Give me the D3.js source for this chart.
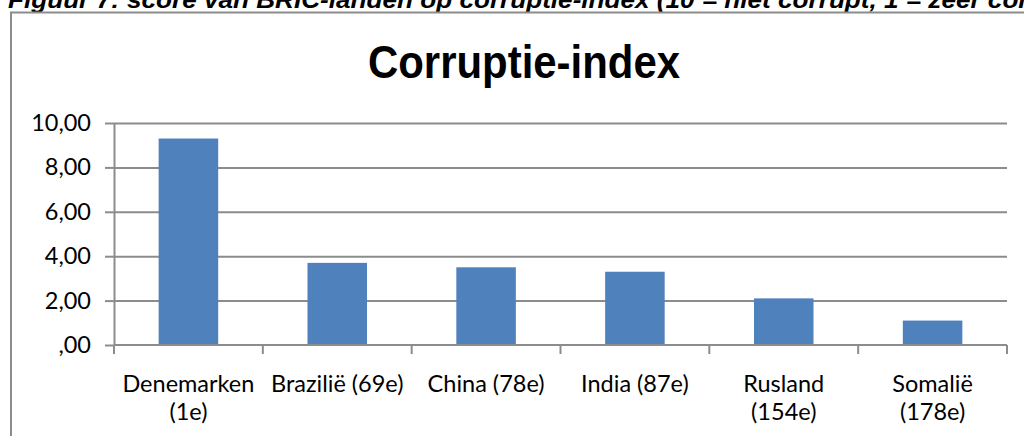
<!DOCTYPE html>
<html>
<head>
<meta charset="utf-8">
<script src="https://cdn.jsdelivr.net/npm/d3@7"></script>
<style>
  html, body { margin: 0; padding: 0; background: #fff; overflow: hidden; }
  svg { display: block; }
</style>
</head>
<body>
<svg id="chart" width="1024" height="436"></svg>
<script>
const caption = "Figuur 7: score van BRIC-landen op corruptie-index (10 = niet corrupt, 1 = zeer corrupt)";
const title = "Corruptie-index";
const categories = [
  ["Denemarken", "(1e)"],
  ["Brazilië (69e)"],
  ["China (78e)"],
  ["India (87e)"],
  ["Rusland", "(154e)"],
  ["Somalië", "(178e)"]
];
const values = [9.3, 3.7, 3.5, 3.3, 2.1, 1.1];
const yTicks = [0, 2, 4, 6, 8, 10];

const svg = d3.select("#chart");
const labelFont = "Lato, 'Open Sans', sans-serif";

// caption, cut off by the top edge like in the source
svg.append("text")
  .attr("x", 8)
  .attr("y", 8)
  .attr("font-family", "'Liberation Sans', Arial, sans-serif")
  .attr("font-weight", "bold")
  .attr("font-style", "italic")
  .attr("font-size", 24)
  .attr("textLength", 1080)
  .attr("lengthAdjust", "spacingAndGlyphs")
  .text(caption);

// chart frame
svg.append("rect")
  .attr("x", 11)
  .attr("y", 12.5)
  .attr("width", 1030)
  .attr("height", 440)
  .attr("fill", "none")
  .attr("stroke", "#8c8c8c")
  .attr("stroke-width", 2);

svg.append("text")
  .attr("x", 368)
  .attr("y", 78)
  .attr("font-family", "'Liberation Sans', Arial, sans-serif")
  .attr("font-weight", "bold")
  .attr("font-size", 46)
  .attr("textLength", 312)
  .attr("lengthAdjust", "spacingAndGlyphs")
  .text(title);

const margin = { left: 114, right: 1007, top: 123, bottom: 345 };

const x = d3.scaleBand()
  .domain(d3.range(categories.length))
  .range([margin.left, margin.right])
  .paddingInner(0.6)
  .paddingOuter(0.3);

const y = d3.scaleLinear()
  .domain([0, 10])
  .range([margin.bottom, margin.top]);

// grid lines
svg.append("g")
  .attr("transform", `translate(${margin.left},0)`)
  .call(d3.axisLeft(y).tickValues(yTicks.filter(d => d > 0)).tickSize(-(margin.right - margin.left)).tickFormat(""))
  .call(g => g.select(".domain").remove())
  .selectAll("line")
  .attr("stroke", "#8c8c8c")
  .attr("stroke-width", 2);

// bars
svg.append("g")
  .selectAll("rect")
  .data(values)
  .join("rect")
  .attr("x", (d, i) => x(i))
  .attr("width", x.bandwidth())
  .attr("y", d => y(d))
  .attr("height", d => y(0) - y(d))
  .attr("fill", "#4f81bd");

// y axis
const fmt = d => d === 0 ? ",00" : d3.format(".2f")(d).replace(".", ",");
svg.append("g")
  .attr("transform", `translate(${margin.left},0)`)
  .call(d3.axisLeft(y).tickValues(yTicks).tickSize(9).tickSizeOuter(0).tickPadding(14).tickFormat(fmt))
  .call(g => g.select(".domain").attr("stroke", "#8c8c8c").attr("stroke-width", 2))
  .call(g => g.selectAll("line").attr("stroke", "#8c8c8c").attr("stroke-width", 2))
  .call(g => g.selectAll("text")
    .attr("font-family", labelFont)
    .attr("font-size", 23.5)
    .attr("fill", "#000"));

// x axis with ticks on category boundaries
const step = (margin.right - margin.left) / categories.length;
const bounds = d3.range(categories.length + 1).map(i => margin.left + i * step);
const xAxis = svg.append("g");
xAxis.append("line")
  .attr("x1", margin.left).attr("x2", margin.right)
  .attr("y1", y(0)).attr("y2", y(0))
  .attr("stroke", "#8c8c8c").attr("stroke-width", 2);
xAxis.selectAll(".tick")
  .data(bounds)
  .join("line")
  .attr("x1", d => d).attr("x2", d => d)
  .attr("y1", y(0)).attr("y2", y(0) + 9)
  .attr("stroke", "#8c8c8c").attr("stroke-width", 2);

xAxis.selectAll(".lbl")
  .data(categories)
  .join("text")
  .attr("class", "lbl")
  .attr("text-anchor", "middle")
  .attr("font-family", labelFont)
  .attr("font-size", 23.5)
  .attr("fill", "#000")
  .each(function (lines, i) {
    const cx = x(i) + x.bandwidth() / 2;
    d3.select(this).selectAll("tspan")
      .data(lines)
      .join("tspan")
      .attr("x", cx)
      .attr("y", (d, j) => 392 + j * 28)
      .text(d => d);
  });
</script>
</body>
</html>
